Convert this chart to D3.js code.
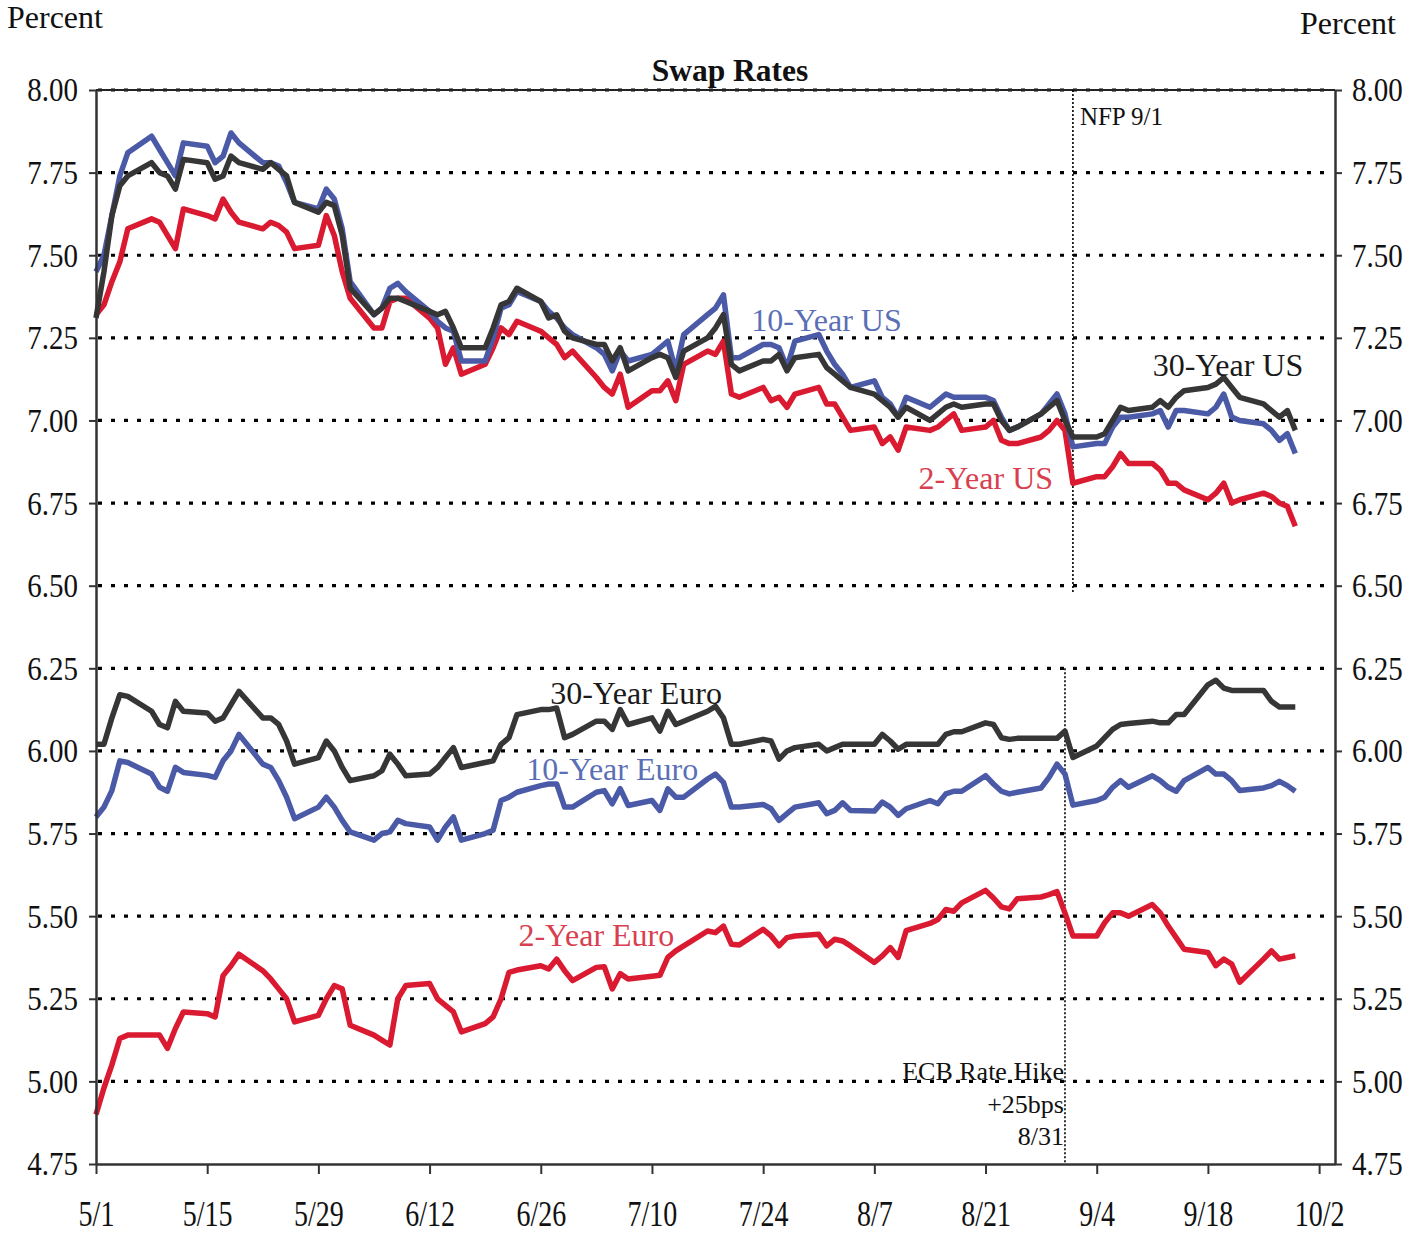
<!DOCTYPE html>
<html>
<head>
<meta charset="utf-8">
<script src="https://cdn.jsdelivr.net/npm/d3@7"></script>
<style>
  body { margin: 0; background: #fff; }
  text { font-family: "Liberation Serif", "Times New Roman", serif; }
</style>
</head>
<body>
<svg width="1427" height="1234"></svg>
<script>
// business days 5/1/2000 .. 9/29/2000
var dates = d3.timeDay.range(new Date(2000, 4, 1), new Date(2000, 8, 30))
  .filter(d => d.getDay() !== 0 && d.getDay() !== 6);

var us2 = [7.32, 7.35, 7.42, 7.48, 7.58, 7.61, 7.60, 7.56, 7.52, 7.64,
  7.62, 7.61, 7.67, 7.63, 7.60, 7.58, 7.60, 7.59, 7.57, 7.52,
  7.53, 7.62, 7.56, 7.45, 7.37, 7.28, 7.28, 7.36, 7.37, 7.37,
  7.31, 7.28, 7.17, 7.22, 7.14, 7.17, 7.22, 7.28, 7.26, 7.30,
  7.27, 7.25, 7.23, 7.19, 7.21, 7.13, 7.10, 7.08, 7.14, 7.04,
  7.09, 7.09, 7.12, 7.06, 7.17, 7.21, 7.20, 7.24, 7.08, 7.07,
  7.10, 7.06, 7.07, 7.04, 7.08, 7.10, 7.05, 7.05, 7.01, 6.97,
  6.98, 6.93, 6.95, 6.91, 6.98, 6.97, 6.98, 7.00, 7.02, 6.97,
  6.98, 7.00, 6.94, 6.93, 6.93, 6.95, 6.97, 7.00, 6.97, 6.81,
  6.83, 6.83, 6.86, 6.90, 6.87, 6.87, 6.85, 6.81, 6.81, 6.79,
  6.76, 6.78, 6.81, 6.75, 6.76, 6.78, 6.77, 6.75, 6.74, 6.68];

var us10 = [7.45, 7.50, 7.62, 7.74, 7.81, 7.86, 7.82, 7.78, 7.74, 7.84,
  7.83, 7.78, 7.80, 7.87, 7.84, 7.78, 7.78, 7.77, 7.72, 7.66,
  7.64, 7.70, 7.67, 7.58, 7.42, 7.32, 7.34, 7.40, 7.415, 7.39,
  7.33, 7.30, 7.28, 7.27, 7.18, 7.18, 7.25, 7.34, 7.35, 7.39,
  7.36, 7.33, 7.31, 7.28, 7.26, 7.22, 7.20, 7.15, 7.21, 7.18,
  7.20, 7.22, 7.24, 7.15, 7.26, 7.32, 7.34, 7.38, 7.19, 7.19,
  7.23, 7.23, 7.22, 7.16, 7.24, 7.26, 7.21, 7.17, 7.14, 7.10,
  7.12, 7.07, 7.05, 7.01, 7.07, 7.04, 7.06, 7.08, 7.07, 7.07,
  7.07, 7.06, 7.01, 6.97, 6.98, 7.02, 7.05, 7.08, 7.02, 6.92,
  6.93, 6.93, 6.98, 7.01, 7.01, 7.02, 7.03, 6.98, 7.03, 7.03,
  7.02, 7.04, 7.08, 7.01, 7.00, 6.99, 6.97, 6.94, 6.96, 6.90];

var us30 = [7.31, 7.45, 7.62, 7.71, 7.74, 7.78, 7.75, 7.74, 7.70, 7.79,
  7.78, 7.73, 7.74, 7.80, 7.78, 7.76, 7.78, 7.76, 7.74, 7.66,
  7.63, 7.66, 7.65, 7.56, 7.40, 7.32, 7.34, 7.37, 7.37, 7.36,
  7.33, 7.32, 7.33, 7.28, 7.22, 7.22, 7.28, 7.35, 7.36, 7.40,
  7.36, 7.31, 7.32, 7.27, 7.25, 7.23, 7.23, 7.18, 7.22, 7.15,
  7.19, 7.20, 7.19, 7.13, 7.21, 7.25, 7.28, 7.32, 7.17, 7.15,
  7.18, 7.18, 7.20, 7.15, 7.19, 7.20, 7.16, 7.14, 7.12, 7.10,
  7.08, 7.06, 7.04, 7.01, 7.04, 7.00, 7.02, 7.04, 7.05, 7.04,
  7.05, 7.05, 7.00, 6.97, 6.98, 7.02, 7.04, 7.06, 7.00, 6.95,
  6.95, 6.96, 7.00, 7.04, 7.03, 7.04, 7.06, 7.04, 7.07, 7.09,
  7.10, 7.11, 7.13, 7.10, 7.07, 7.05, 7.03, 7.01, 7.03, 6.97];

var eu2 = [4.90, 4.98, 5.05, 5.13, 5.14, 5.14, 5.14, 5.10, 5.16, 5.21,
  5.205, 5.195, 5.32, 5.35, 5.385, 5.335, 5.31, 5.28, 5.25, 5.18,
  5.20, 5.25, 5.29, 5.28, 5.17, 5.14, 5.125, 5.11, 5.25, 5.29,
  5.296, 5.25, 5.23, 5.21, 5.15, 5.175, 5.195, 5.25, 5.33, 5.337,
  5.35, 5.34, 5.37, 5.335, 5.305, 5.345, 5.347, 5.28, 5.326, 5.31,
  5.318, 5.321, 5.375, 5.395, 5.41, 5.455, 5.45, 5.47, 5.415, 5.413,
  5.46, 5.44, 5.41, 5.435, 5.44, 5.445, 5.41, 5.43, 5.425, 5.41,
  5.36, 5.38, 5.405, 5.375, 5.456, 5.478, 5.49, 5.52, 5.515, 5.54,
  5.578, 5.555, 5.528, 5.522, 5.553, 5.558, 5.565, 5.574, 5.51, 5.44,
  5.44, 5.48, 5.51, 5.51, 5.50, 5.535, 5.51, 5.47, 5.435, 5.40,
  5.39, 5.35, 5.37, 5.355, 5.30, 5.37, 5.395, 5.37, 5.375, 5.38];

var eu10 = [5.80, 5.83, 5.88, 5.97, 5.965, 5.93, 5.89, 5.878, 5.95, 5.935,
  5.926, 5.92, 5.97, 6.00, 6.05, 5.96, 5.95, 5.91, 5.86, 5.795,
  5.83, 5.86, 5.83, 5.79, 5.755, 5.73, 5.75, 5.755, 5.79, 5.78,
  5.77, 5.73, 5.77, 5.80, 5.73, 5.75, 5.76, 5.85, 5.86, 5.875,
  5.895, 5.90, 5.90, 5.83, 5.83, 5.875, 5.88, 5.84, 5.886, 5.835,
  5.85, 5.82, 5.885, 5.86, 5.86, 5.915, 5.93, 5.905, 5.83, 5.83,
  5.838, 5.825, 5.79, 5.81, 5.83, 5.843, 5.81, 5.82, 5.843, 5.82,
  5.818, 5.845, 5.83, 5.805, 5.825, 5.85, 5.84, 5.87, 5.878, 5.878,
  5.925, 5.90, 5.878, 5.87, 5.875, 5.888, 5.92, 5.96, 5.93, 5.836,
  5.85, 5.86, 5.89, 5.91, 5.89, 5.925, 5.91, 5.89, 5.878, 5.91,
  5.95, 5.93, 5.93, 5.91, 5.88, 5.888, 5.895, 5.908, 5.895, 5.878];

var eu30 = [6.02, 6.02, 6.10, 6.17, 6.165, 6.12, 6.08, 6.07, 6.15, 6.12,
  6.115, 6.09, 6.10, 6.14, 6.18, 6.10, 6.10, 6.08, 6.03, 5.96,
  5.98, 6.03, 6.00, 5.95, 5.91, 5.925, 5.94, 5.99, 5.96, 5.925,
  5.93, 5.95, 5.98, 6.01, 5.95, 5.965, 5.97, 6.02, 6.04, 6.11,
  6.125, 6.125, 6.13, 6.04, 6.05, 6.09, 6.09, 6.065, 6.125, 6.08,
  6.10, 6.06, 6.12, 6.08, 6.09, 6.12, 6.135, 6.10, 6.02, 6.02,
  6.035, 6.03, 5.975, 6.00, 6.01, 6.02, 6.00, 6.01, 6.02, 6.02,
  6.02, 6.05, 6.03, 6.005, 6.02, 6.02, 6.02, 6.05, 6.058, 6.058,
  6.085, 6.08, 6.04, 6.035, 6.038, 6.038, 6.038, 6.038, 6.06, 5.98,
  6.015, 6.04, 6.065, 6.08, 6.083, 6.09, 6.085, 6.085, 6.11, 6.11,
  6.20, 6.214, 6.19, 6.183, 6.183, 6.183, 6.15, 6.133, 6.133, 6.133];

var yTicks = [4.75, 5.00, 5.25, 5.50, 5.75, 6.00, 6.25, 6.50, 6.75, 7.00, 7.25, 7.50, 7.75, 8.00];
var xTicks = ["5/1", "5/15", "5/29", "6/12", "6/26", "7/10", "7/24", "8/7", "8/21", "9/4", "9/18", "10/2"];

var RED = "#d91a30", BLUE = "#4b5aa6", DARK = "#363636";

var series = [
  { values: us2, color: RED },
  { values: us10, color: BLUE },
  { values: us30, color: DARK },
  { values: eu2, color: RED },
  { values: eu10, color: BLUE },
  { values: eu30, color: DARK }
];

var labels = [
  { text: "10-Year US", date: "2000-07-22T12:00", value: 7.27, anchor: "start", color: "#5b6fb6" },
  { text: "30-Year US", date: "2000-09-30", value: 7.135, anchor: "end", color: "#1a1a1a" },
  { text: "2-Year US", date: "2000-08-29T12:00", value: 6.793, anchor: "end", color: "#d8404f" },
  { text: "30-Year Euro", date: "2000-07-08", value: 6.142, anchor: "middle", color: "#1a1a1a" },
  { text: "10-Year Euro", date: "2000-07-05", value: 5.912, anchor: "middle", color: "#5b6fb6" },
  { text: "2-Year Euro", date: "2000-07-03", value: 5.41, anchor: "middle", color: "#d8404f" }
];

var svg = d3.select("svg");
var parse = d3.timeParse("%Y-%m-%dT%H:%M");
var parseDay = d3.timeParse("%Y-%m-%d");
function toDate(s) { return parse(s) || parseDay(s); }

var x = d3.scaleTime()
  .domain([new Date(2000, 4, 1), new Date(2000, 9, 4)])
  .range([96, 1335]);
var y = d3.scaleLinear().domain([4.75, 8]).range([1164, 90]);

//dotted grid
svg.append("g")
  .selectAll("line")
  .data(yTicks.filter(d => d > 4.75))
  .enter()
  .append("line")
  .attr("x1", 98)
  .attr("x2", 1333)
  .attr("y1", d => y(d))
  .attr("y2", d => y(d))
  .attr("stroke", "#000")
  .attr("stroke-width", 3.2)
  .attr("stroke-dasharray", "4,9");

// top border
svg.append("line")
  .attr("x1", 96).attr("x2", 1335)
  .attr("y1", y(8)).attr("y2", y(8))
  .attr("stroke", "#222").attr("stroke-width", 2);

// event lines
svg.append("line")
  .attr("x1", x(new Date(2000, 8, 1))).attr("x2", x(new Date(2000, 8, 1)))
  .attr("y1", y(8)).attr("y2", y(6.48))
  .attr("stroke", "#000").attr("stroke-width", 1.6).attr("stroke-dasharray", "2,2");
svg.append("line")
  .attr("x1", x(new Date(2000, 7, 31))).attr("x2", x(new Date(2000, 7, 31)))
  .attr("y1", y(6.25)).attr("y2", y(4.75))
  .attr("stroke", "#000").attr("stroke-width", 1.6).attr("stroke-dasharray", "2,2");

// series lines
var line = d3.line()
  .x((d, i) => x(dates[i]))
  .y(d => y(d));

svg.append("g")
  .selectAll("path")
  .data(series)
  .enter()
  .append("path")
  .attr("d", d => line(d.values))
  .attr("fill", "none")
  .attr("stroke", d => d.color)
  .attr("stroke-width", 5.5)
  .attr("stroke-linejoin", "round");

function stretch(sel, k) {
  sel.each(function() {
    var t = d3.select(this);
    var yy = +t.attr("y") || 0;
    t.attr("y", yy / k).attr("transform", "scale(1," + k + ")");
  });
}

// axes
var left = svg.append("g")
  .attr("transform", "translate(96,0)")
  .call(d3.axisLeft(y).tickValues(yTicks).tickFormat(d3.format(".2f")).tickSize(7).tickSizeOuter(0).tickPadding(11));
var right = svg.append("g")
  .attr("transform", "translate(1335,0)")
  .call(d3.axisRight(y).tickValues(yTicks).tickFormat(d3.format(".2f")).tickSize(7).tickSizeOuter(0).tickPadding(10));
var bottom = svg.append("g")
  .attr("transform", "translate(0,1164)")
  .call(d3.axisBottom(x)
    .tickValues(xTicks.map(s => d3.timeParse("%m/%d/%Y")(s + "/2000")))
    .tickFormat(d3.timeFormat("%-m/%-d"))
    .tickSize(10).tickSizeOuter(0).tickPadding(26));

[left, right, bottom].forEach(function(g) {
  g.select(".domain").attr("stroke", "#333").attr("stroke-width", 2.5);
  g.selectAll(".tick line").attr("stroke", "#333").attr("stroke-width", 2);
  g.selectAll(".tick text")
    .attr("font-family", "'Liberation Serif', serif")
    .attr("font-size", 29)
    .attr("fill", "#111");
});
stretch(left.selectAll(".tick text"), 1.18);
stretch(right.selectAll(".tick text"), 1.18);
bottom.selectAll(".tick text").attr("font-size", 28);
stretch(bottom.selectAll(".tick text"), 1.3);

// series labels
svg.append("g")
  .selectAll("text")
  .data(labels)
  .enter()
  .append("text")
  .attr("x", d => x(toDate(d.date)))
  .attr("y", d => y(d.value))
  .attr("text-anchor", d => d.anchor)
  .attr("fill", d => d.color)
  .attr("font-size", 32)
  .text(d => d.text);

// annotations
svg.append("text")
  .attr("x", x(new Date(2000, 8, 1)) + 7)
  .attr("y", y(7.894))
  .attr("font-size", 25)
  .attr("fill", "#111")
  .text("NFP 9/1");

var ecb = ["ECB Rate Hike", "+25bps", "8/31"];
var ecbValues = [5.004, 4.904, 4.808];
svg.append("g")
  .selectAll("text")
  .data(ecb)
  .enter()
  .append("text")
  .attr("x", x(new Date(2000, 7, 31)) - 1)
  .attr("y", (d, i) => y(ecbValues[i]))
  .attr("text-anchor", "end")
  .attr("font-size", 26)
  .attr("fill", "#111")
  .text(d => d);

svg.append("text")
  .attr("x", 730).attr("y", 81)
  .attr("text-anchor", "middle")
  .attr("font-size", 31.5)
  .attr("font-weight", "bold")
  .attr("fill", "#111")
  .text("Swap Rates");

svg.append("text")
  .attr("x", 7).attr("y", 28)
  .attr("font-size", 32)
  .attr("fill", "#111")
  .text("Percent");
svg.append("text")
  .attr("x", 1396).attr("y", 34)
  .attr("text-anchor", "end")
  .attr("font-size", 32)
  .attr("fill", "#111")
  .text("Percent");
</script>
</body>
</html>
